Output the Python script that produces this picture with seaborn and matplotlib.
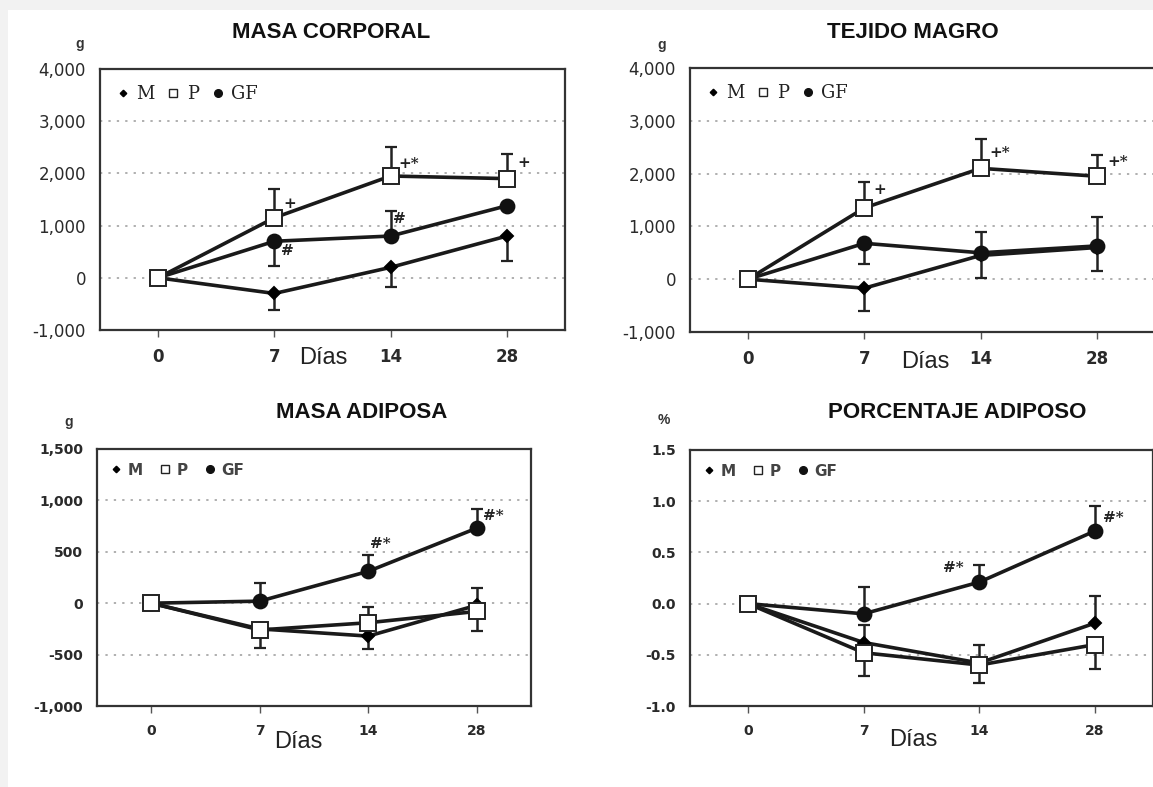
import matplotlib
matplotlib.use("Agg")
import matplotlib.pyplot as plt
import seaborn as sns
import pandas as pd
from matplotlib.lines import Line2D
from matplotlib.patches import Rectangle

# ---------------- data ----------------
days = ["0", "7", "14", "28"]
groups = ["M", "P", "GF"]

# MASA CORPORAL (g)
mc_M = [0, -300, 200, 800]
mc_P = [0, 1150, 1950, 1900]
mc_GF = [0, 700, 800, 1380]
mc_M_err = ([0, 320, 380, 480], [0, 0, 0, 0])       # (lower, upper)
mc_P_err = ([0, 0, 0, 0], [0, 550, 560, 470])
mc_GF_err = ([0, 470, 0, 0], [0, 0, 480, 0])

# TEJIDO MAGRO (g)
tm_M = [0, -170, 450, 600]
tm_P = [0, 1350, 2100, 1950]
tm_GF = [0, 680, 500, 630]
tm_M_err = ([0, 430, 420, 450], [0, 0, 0, 0])
tm_P_err = ([0, 0, 0, 0], [0, 500, 550, 400])
tm_GF_err = ([0, 400, 0, 0], [0, 0, 400, 550])

# MASA ADIPOSA (g)
ma_M = [0, -250, -320, -20]
ma_P = [0, -260, -190, -80]
ma_GF = [0, 20, 310, 730]
ma_M_err = ([0, 0, 130, 0], [0, 0, 0, 170])
ma_P_err = ([0, 180, 0, 190], [0, 0, 150, 0])
ma_GF_err = ([0, 0, 0, 0], [0, 180, 160, 190])

# PORCENTAJE ADIPOSO (%)
pa_M = [0, -0.38, -0.58, -0.19]
pa_P = [0, -0.48, -0.60, -0.40]
pa_GF = [0, -0.10, 0.21, 0.71]
pa_M_err = ([0, 0, 0.20, 0], [0, 0.17, 0, 0.26])
pa_P_err = ([0, 0.23, 0, 0.24], [0, 0, 0.20, 0])
pa_GF_err = ([0, 0, 0, 0], [0, 0.26, 0.17, 0.24])

titles = ["MASA CORPORAL", "TEJIDO MAGRO", "MASA ADIPOSA", "PORCENTAJE ADIPOSO"]
units = ["g", "g", "g", "%"]
xlabel = "Días"

yticks_mc = [-1000, 0, 1000, 2000, 3000, 4000]
yticks_ma = [-1000, -500, 0, 500, 1000, 1500]
yticks_pa = [-1.0, -0.5, 0.0, 0.5, 1.0, 1.5]

# significance marks: (group, day index, text)
marks_mc = [("P", 1, "+"), ("P", 2, "+*"), ("P", 3, "+"), ("GF", 1, "#"), ("GF", 2, "#")]
marks_tm = [("P", 1, "+"), ("P", 2, "+*"), ("P", 3, "+*")]
marks_ma = [("GF", 2, "#*"), ("GF", 3, "#*")]
marks_pa = [("GF", 2, "#*"), ("GF", 3, "#*")]

panels = [
    dict(vals={"M": mc_M, "P": mc_P, "GF": mc_GF},
         errs={"M": mc_M_err, "P": mc_P_err, "GF": mc_GF_err},
         yticks=yticks_mc, fmt="{:,.0f}", marks=marks_mc),
    dict(vals={"M": tm_M, "P": tm_P, "GF": tm_GF},
         errs={"M": tm_M_err, "P": tm_P_err, "GF": tm_GF_err},
         yticks=yticks_mc, fmt="{:,.0f}", marks=marks_tm),
    dict(vals={"M": ma_M, "P": ma_P, "GF": ma_GF},
         errs={"M": ma_M_err, "P": ma_P_err, "GF": ma_GF_err},
         yticks=yticks_ma, fmt="{:,.0f}", marks=marks_ma),
    dict(vals={"M": pa_M, "P": pa_P, "GF": pa_GF},
         errs={"M": pa_M_err, "P": pa_P_err, "GF": pa_GF_err},
         yticks=yticks_pa, fmt="{:.1f}", marks=marks_pa),
]

# ---------------- layout / style ----------------
sns.set_style("white")
plt.rcParams["font.family"] = ["Liberation Sans", "DejaVu Sans"]

W, H = 1153, 787
fig = plt.figure(figsize=(W / 100, H / 100), dpi=100)
fig.patch.set_facecolor("#f2f2f2")
bg = Rectangle((8 / W, 0), 1 - 8 / W, 1 - 10 / H, transform=fig.transFigure,
               facecolor="white", edgecolor="none", zorder=-10)
fig.add_artist(bg)

def fx(x):
    return x / W

def fy(y):
    return 1 - y / H

# axes boxes in pixels: left, top, right, bottom
boxes = [(100, 69, 565, 330), (690, 68, 1155, 332), (97, 449, 531, 706), (690, 450, 1153, 706)]
title_pos = [(331, 33), (913, 33), (362, 413), (957, 413)]
unit_pos = [(80, 44), (662, 45), (69, 422), (664, 420)]
dias_pos = [(323, 358), (925, 362), (298, 742), (913, 740)]
tick_fs = [12, 12, 10, 10]
tick_bold = [False, False, True, True]
# offsets (points) of each significance mark from its point
mark_offsets = [
    [(11, 10), (13, 9), (12, 11), (9, -7), (6, 12)],
    [(11, 13), (14, 11), (15, 10)],
    [(9, 20), (12, 9)],
    [(-19, 10), (13, 9)],
]
legend_props = [
    dict(family="DejaVu Serif", size=13, weight="normal"),
    dict(family="DejaVu Serif", size=13, weight="normal"),
    dict(family="DejaVu Sans", size=11, weight="bold"),
    dict(family="DejaVu Sans", size=11, weight="bold"),
]
legend_colsp = [0.7, 0.7, 1.1, 1.1]

style = {
    "M": dict(marker="D", ms=6, mfc="black", mec="black"),
    "P": dict(marker="s", ms=11, mfc="white", mec="#222222"),
    "GF": dict(marker="o", ms=10, mfc="#111111", mec="#111111"),
}
order = ["M", "GF", "P"]

for i, (p, box) in enumerate(zip(panels, boxes)):
    l, t, r, b = box
    ax = fig.add_axes([fx(l), fy(b), fx(r) - fx(l), fy(t) - fy(b)])
    ax.set_facecolor("white")
    xs = list(range(len(days)))

    rows = []
    for g in groups:
        for xi, v in zip(xs, p["vals"][g]):
            rows.append(dict(x=xi, y=v, grupo=g))
    df = pd.DataFrame(rows)

    for g in order:
        sub = df[df["grupo"] == g]
        sns.lineplot(data=sub, x="x", y="y", ax=ax, color="#1a1a1a", lw=2.6,
                     marker=style[g]["marker"], markersize=style[g]["ms"],
                     markerfacecolor=style[g]["mfc"], markeredgecolor=style[g]["mec"],
                     markeredgewidth=1.4, legend=False, zorder=4 if g == "P" else 3)
        lo, hi = p["errs"][g]
        ax.errorbar(xs, p["vals"][g], yerr=[lo, hi], fmt="none", ecolor="#222222",
                    elinewidth=1.8, capsize=4, capthick=1.6, zorder=2)

    yt = p["yticks"]
    ax.set_ylim(yt[0], yt[-1])
    ax.set_xlim(-0.5, 3.5)
    ax.set_yticks(yt)
    ax.set_yticklabels([p["fmt"].format(v) for v in yt],
                       fontsize=tick_fs[i], fontweight="bold" if tick_bold[i] else "normal",
                       color="#2a2a2a", family=["DejaVu Sans"])
    ax.set_xticks(xs)
    ax.set_xticklabels(days, fontsize=tick_fs[i], fontweight="bold", color="#2a2a2a",
                       family=["DejaVu Sans"])
    ax.tick_params(axis="y", length=0, pad=10)
    ax.tick_params(axis="x", length=5, width=1, color="#555555", direction="out", pad=8, bottom=True)
    ax.set_xlabel("")
    ax.set_ylabel("")
    for s in ax.spines.values():
        s.set_color("#333333")
        s.set_linewidth(1.6)
    for v in yt[1:-1]:
        ax.axhline(v, color="#9a9a9a", lw=1.1, ls=(0, (1.5, 4)), zorder=1)

    # significance marks
    for (g, k, txt), (dx, dy) in zip(p["marks"], mark_offsets[i]):
        ax.annotate(txt, (xs[k], p["vals"][g][k]), xytext=(dx, dy),
                    textcoords="offset points", fontsize=11, fontweight="bold",
                    color="#222222", ha="center", va="center", family=["DejaVu Serif"])

    # legend
    handles = [Line2D([], [], ls="none", marker=style[g]["marker"],
                      markersize=style[g]["ms"] * 0.55, markerfacecolor=style[g]["mfc"],
                      markeredgecolor=style[g]["mec"], markeredgewidth=1.0) for g in groups]
    leg = ax.legend(handles, groups, loc="upper left", ncol=3, frameon=False,
                    handlelength=0.7, handletextpad=0.4, columnspacing=legend_colsp[i],
                    borderaxespad=0.3, borderpad=0.6, prop=legend_props[i])
    for tx in leg.get_texts():
        tx.set_color("#222222" if i < 2 else "#444444")

    fig.text(fx(title_pos[i][0]), fy(title_pos[i][1]), titles[i], ha="center", va="center",
             fontsize=16, fontweight="bold", color="#111111")
    fig.text(fx(unit_pos[i][0]), fy(unit_pos[i][1]), units[i], ha="center", va="center",
             fontsize=10, fontweight="bold", color="#333333")
    fig.text(fx(dias_pos[i][0]), fy(dias_pos[i][1]), xlabel, ha="center", va="center",
             fontsize=17, color="#222222")

fig.savefig("out.png", dpi=100, facecolor=fig.get_facecolor())
